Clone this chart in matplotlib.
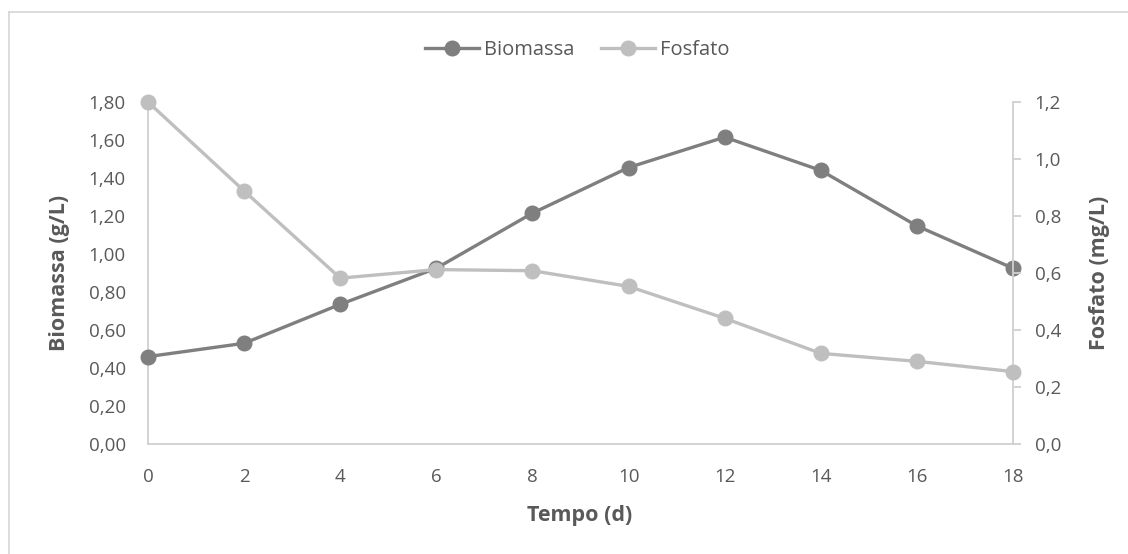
import matplotlib
matplotlib.use("Agg")
import matplotlib.pyplot as plt
from matplotlib.lines import Line2D
from matplotlib.ticker import FuncFormatter, MultipleLocator

tempo = [0, 2, 4, 6, 8, 10, 12, 14, 16, 18]
biomassa = [0.46, 0.53, 0.735, 0.925, 1.215, 1.455, 1.615, 1.44, 1.148, 0.925]
fosfato = [1.20, 0.888, 0.582, 0.612, 0.608, 0.553, 0.441, 0.318, 0.290, 0.254]

C_BIO = "#7f7f7f"
C_FOS = "#bfbfbf"
C_TXT = "#595959"
C_AX = "#d0d0d0"
FONT = "Open Sans"

plt.rcParams["font.family"] = [FONT, "DejaVu Sans"]

W, H = 1128, 554
fig = plt.figure(figsize=(W / 100, H / 100), dpi=100)
ax = fig.add_axes([148 / W, 110 / H, (1013 - 148) / W, (444 - 102) / H])
ax2 = ax.twinx()

LW, MS = 2.4, 10.5
ax.plot(tempo, biomassa, color=C_BIO, lw=LW, marker="o", ms=MS, zorder=3, clip_on=False)
ax2.plot(tempo, fosfato, color=C_FOS, lw=LW, marker="o", ms=MS, zorder=3, clip_on=False)

ax.set_xlim(0, 18)
ax.set_ylim(0, 1.8)
ax2.set_ylim(0, 1.2)
ax.set_xticks(tempo)
ax.yaxis.set_major_locator(MultipleLocator(0.2))
ax2.yaxis.set_major_locator(MultipleLocator(0.2))
ax.yaxis.set_major_formatter(FuncFormatter(lambda v, p: f"{v:.2f}".replace(".", ",")))
ax2.yaxis.set_major_formatter(FuncFormatter(lambda v, p: f"{v:.1f}".replace(".", ",")))

for a in (ax, ax2):
    for s in a.spines.values():
        s.set_visible(False)
ax.spines["left"].set_visible(True)
ax.spines["bottom"].set_visible(True)
ax2.spines["right"].set_visible(True)
for s in (ax.spines["left"], ax.spines["bottom"], ax2.spines["right"]):
    s.set_color(C_AX)
    s.set_linewidth(1.3)

ax.tick_params(axis="x", length=0, pad=17, labelsize=13.5, labelcolor=C_TXT)
ax.tick_params(axis="y", length=0, pad=16, labelsize=13.5, labelcolor=C_TXT)
ax2.tick_params(axis="y", length=5.5, width=1.3, color=C_AX, pad=10, labelsize=13.5, labelcolor=C_TXT)

lab = dict(fontsize=15.5, fontweight="bold", color=C_TXT, ha="center", va="center")
fig.text(580 / W, 1 - 516 / H, "Tempo (d)", **lab)
fig.text(60 / W, 1 - 273 / H, "Biomassa (g/L)", rotation=90, **lab)
fig.text(1100 / W, 1 - 273 / H, "Fosfato (mg/L)", rotation=90, **lab)

handles = [
    Line2D([], [], color=C_BIO, lw=LW, marker="o", ms=MS),
    Line2D([], [], color=C_FOS, lw=LW, marker="o", ms=MS),
]
fig.legend(handles, ["Biomassa", "Fosfato"], loc="center", bbox_to_anchor=(577 / W, 1 - 50 / H),
           ncol=2, frameon=False, fontsize=14.5, labelcolor=C_TXT, handlelength=2.7,
           handletextpad=0.25, columnspacing=1.3)

# outer border
fig.add_artist(Line2D([8.5 / W, 8.5 / W], [0, 1 - 11.5 / H], transform=fig.transFigure,
                      color="#d9d9d9", lw=1.3))
fig.add_artist(Line2D([8.5 / W, 1], [1 - 11.5 / H, 1 - 11.5 / H], transform=fig.transFigure,
                      color="#d9d9d9", lw=1.3))

fig.savefig("out.png", dpi=100)
